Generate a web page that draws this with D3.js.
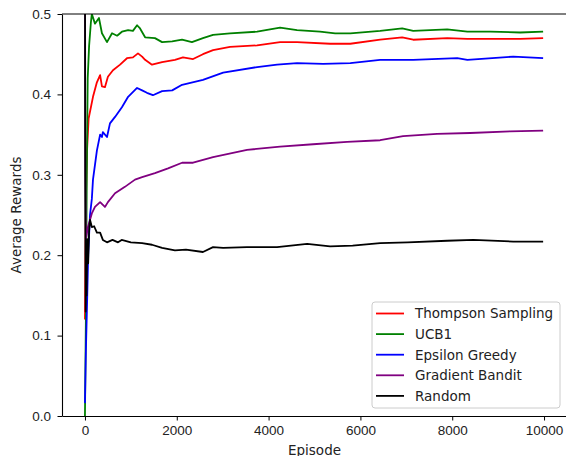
<!DOCTYPE html>
<html>
<head>
<meta charset="utf-8">
<script src="https://cdn.jsdelivr.net/npm/d3@7"></script>
<style>
  body { margin: 0; background: #fff; }
  svg { display: block; font-family: "DejaVu Sans", sans-serif; }
  .axis path, .axis line { stroke: #000; }
  .axis text { fill: #222; font-size: 13.5px; }
</style>
</head>
<body>
<div id="container"></div>
<script>
// series data, [episode, average reward]
var thompson = [[0,0.12],[10,0.2],[25,0.28],[45,0.33],[80,0.37],[175,0.397],[260,0.415],[330,0.424],[370,0.41],[435,0.409],[500,0.422],[610,0.43],[765,0.437],[915,0.445],[1045,0.446],[1155,0.451],[1245,0.447],[1310,0.443],[1460,0.437],[1680,0.44],[1960,0.443],[2135,0.446],[2355,0.444],[2570,0.45],[2790,0.455],[3160,0.459],[3750,0.461],[4250,0.465],[4620,0.465],[5340,0.463],[5780,0.463],[6430,0.468],[6910,0.471],[7150,0.468],[7890,0.47],[8330,0.469],[9480,0.469],[9980,0.47]];
var ucb1 = [[0,0.0],[20,0.12],[40,0.3],[60,0.42],[90,0.46],[130,0.49],[150,0.5],[218,0.488],[305,0.495],[370,0.476],[480,0.465],[590,0.476],[700,0.473],[805,0.478],[940,0.48],[1045,0.479],[1135,0.486],[1200,0.482],[1310,0.471],[1525,0.47],[1680,0.465],[1900,0.466],[2115,0.468],[2330,0.465],[2570,0.47],[2790,0.474],[3160,0.476],[3750,0.478],[4250,0.483],[4620,0.48],[5120,0.478],[5450,0.476],[5780,0.476],[6430,0.479],[6910,0.482],[7150,0.479],[7890,0.481],[8330,0.478],[8830,0.478],[9480,0.477],[9980,0.478]];
var epsilon = [[0,0.016],[20,0.08],[50,0.15],[70,0.2],[110,0.25],[150,0.27],[175,0.294],[260,0.33],[330,0.35],[370,0.347],[390,0.353],[480,0.347],[545,0.364],[655,0.372],[805,0.384],[940,0.397],[1135,0.408],[1245,0.405],[1350,0.402],[1480,0.399],[1680,0.404],[1900,0.405],[2115,0.412],[2570,0.418],[3010,0.427],[3750,0.434],[4185,0.437],[4620,0.439],[5190,0.438],[5780,0.439],[6430,0.443],[7150,0.443],[8110,0.445],[8330,0.443],[9330,0.447],[9980,0.445]];
var gradient = [[0,1.0],[3,0.5],[8,0.3],[20,0.22],[65,0.235],[150,0.252],[218,0.26],[330,0.266],[435,0.26],[500,0.266],[655,0.277],[870,0.285],[1090,0.294],[1245,0.297],[1525,0.302],[1810,0.308],[2115,0.315],[2355,0.315],[2790,0.322],[3530,0.331],[4250,0.335],[4970,0.338],[5710,0.341],[6430,0.343],[6930,0.348],[7670,0.351],[8390,0.352],[9260,0.354],[9980,0.355]];
var random = [[0,1.0],[2,0.5],[5,0.35],[10,0.2],[15,0.13],[25,0.2],[35,0.15],[50,0.22],[70,0.19],[90,0.23],[110,0.244],[150,0.235],[200,0.236],[260,0.228],[330,0.228],[390,0.219],[480,0.216],[600,0.219],[720,0.216],[800,0.219],[1000,0.216],[1245,0.215],[1460,0.213],[1680,0.209],[1960,0.206],[2200,0.207],[2570,0.204],[2790,0.21],[3010,0.209],[3530,0.21],[4185,0.21],[4840,0.214],[5340,0.211],[5830,0.212],[6430,0.215],[7030,0.216],[7890,0.218],[8460,0.219],[9330,0.217],[9980,0.217]];

var seriesNames = ["Thompson Sampling", "UCB1", "Epsilon Greedy", "Gradient Bandit", "Random"];
var seriesColors = ["red", "green", "blue", "purple", "black"];
var seriesData = [thompson, ucb1, epsilon, gradient, random];

var xTicks = [0, 2000, 4000, 6000, 8000, 10000];
var yTicks = [0.0, 0.1, 0.2, 0.3, 0.4, 0.5];

var width = 566, height = 456;
var plotLeft = 62, plotRight = 567, plotTop = 14, plotBottom = 416;

var svg = d3.select("div#container")
.append("svg")
.attr("width", width)
.attr("height", height);

var x = d3.scaleLinear().domain([-500, 10500]).range([plotLeft, plotRight]);
var y = d3.scaleLinear().domain([0, 0.5]).range([plotBottom, plotTop]);

svg.append("defs").append("clipPath")
.attr("id", "clip")
.append("rect")
.attr("x", plotLeft).attr("y", plotTop)
.attr("width", plotRight - plotLeft).attr("height", plotBottom - plotTop);

var line = d3.line()
.x(function(d) { return x(d[0]); })
.y(function(d) { return y(d[1]); });

svg.append("g")
.attr("clip-path", "url(#clip)")
.selectAll("path")
.data(seriesData)
.enter().append("path")
.attr("d", line)
.attr("fill", "none")
.attr("stroke", function(d, i) { return seriesColors[i]; })
.attr("stroke-width", 1.8)
.attr("stroke-linejoin", "round");

// frame (right side is off the picture)
svg.append("line").attr("x1", plotLeft).attr("x2", plotRight).attr("y1", plotTop).attr("y2", plotTop).attr("stroke", "#000");
svg.append("line").attr("x1", plotRight).attr("x2", plotRight).attr("y1", plotTop).attr("y2", plotBottom).attr("stroke", "#000");

svg.append("g")
.attr("class", "axis")
.attr("transform", "translate(0," + plotBottom + ")")
.call(d3.axisBottom(x).tickValues(xTicks).tickFormat(d3.format("d")).tickSize(4.5).tickPadding(5).tickSizeOuter(0));

svg.append("g")
.attr("class", "axis")
.attr("transform", "translate(" + plotLeft + ",0)")
.call(d3.axisLeft(y).tickValues(yTicks).tickFormat(d3.format(".1f")).tickSize(4.5).tickPadding(6.5).tickSizeOuter(0));

svg.selectAll(".axis .domain").attr("stroke-width", 1.1);

svg.append("text")
.attr("x", (plotLeft + plotRight) / 2)
.attr("y", 455)
.attr("text-anchor", "middle")
.attr("font-size", 13.5)
.attr("fill", "#222")
.text("Episode");

svg.append("text")
.attr("transform", "translate(21," + ((plotTop + plotBottom) / 2) + ") rotate(-90)")
.attr("text-anchor", "middle")
.attr("font-size", 13.5)
.attr("fill", "#222")
.text("Average Rewards");

// legend
var legend = svg.append("g").attr("transform", "translate(372,302)");
legend.append("rect")
.attr("width", 188).attr("height", 106)
.attr("rx", 3)
.attr("fill", "#fff").attr("fill-opacity", 0.8)
.attr("stroke", "#ccc");

var item = legend.selectAll("g.item")
.data(seriesNames)
.enter().append("g")
.attr("class", "item")
.attr("transform", function(d, i) { return "translate(0," + (11.5 + i * 20.6) + ")"; });

item.append("line")
.attr("x1", 4).attr("x2", 32)
.attr("stroke", function(d, i) { return seriesColors[i]; })
.attr("stroke-width", 1.8);

item.append("text")
.attr("x", 43)
.attr("dy", "0.36em")
.attr("font-size", 13.5)
.attr("fill", "#222")
.text(function(d) { return d; });
</script>
</body>
</html>
